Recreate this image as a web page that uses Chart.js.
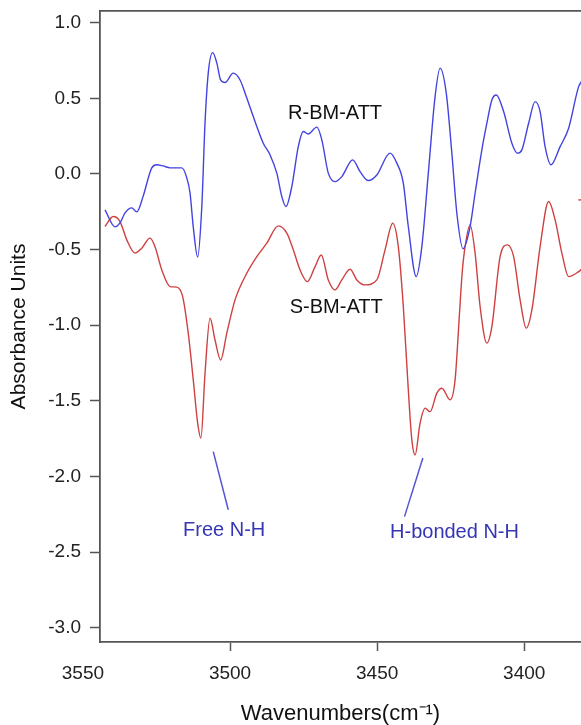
<!DOCTYPE html>
<html><head><meta charset="utf-8">
<script src="https://cdn.jsdelivr.net/npm/chart.js@4"></script>
<style>html,body{margin:0;padding:0;background:#fff;}canvas{display:block;}</style>
</head><body>
<canvas id="c" width="581" height="725"></canvas>
<script>
// R-BM-ATT spectrum (wavenumber, absorbance)
const wavenumbersR = [3542.5,3539.1,3537.4,3535.7,3533.4,3531.7,3529.6,3526.6,3524.9,3522.8,3520.4,3516.4,3514.7,3513.6,3512.5,3511.0,3509.6,3508.5,3507.4,3505.9,3504.5,3503.2,3501.7,3498.9,3496.6,3494.3,3492.1,3488.7,3486.4,3484.1,3482.4,3481.0,3479.0,3476.8,3475.1,3473.4,3470.5,3468.8,3466.6,3464.3,3462.0,3458.3,3455.8,3453.0,3450.1,3445.6,3443.3,3441.1,3439.4,3436.7,3434.8,3432.6,3430.3,3428.6,3426.5,3424.6,3422.9,3420.8,3418.4,3416.7,3414.4,3412.7,3411.0,3409.5,3407.0,3404.2,3402.3,3400.8,3398.5,3396.3,3394.6,3392.9,3390.9,3387.8,3384.9,3381.5,3380.2];
const absorbanceR = [-0.238,-0.350,-0.324,-0.258,-0.225,-0.251,-0.152,0.040,0.060,0.053,0.040,0.040,-0.026,-0.126,-0.350,-0.549,-0.218,0.337,0.668,0.802,0.734,0.621,0.604,0.666,0.621,0.502,0.379,0.203,0.126,0.005,-0.150,-0.216,-0.084,0.180,0.280,0.264,0.309,0.225,0.005,-0.051,-0.018,0.093,0.015,-0.044,-0.007,0.137,0.071,-0.061,-0.348,-0.679,-0.481,0.005,0.511,0.699,0.534,0.137,-0.260,-0.495,-0.348,-0.128,0.159,0.335,0.489,0.522,0.412,0.203,0.137,0.159,0.335,0.478,0.412,0.180,0.060,0.180,0.302,0.577,0.62];

// S-BM-ATT spectrum
const wavenumbersS = [3542.5,3539.7,3537.4,3535.1,3532.3,3530.0,3527.2,3525.5,3523.2,3520.4,3518.1,3516.1,3514.2,3512.5,3511.0,3509.9,3508.5,3506.8,3505.1,3503.2,3501.1,3498.3,3494.3,3490.9,3487.5,3483.6,3480.7,3478.5,3476.2,3473.7,3471.1,3469.0,3466.6,3464.3,3462.0,3459.2,3456.9,3454.1,3450.1,3447.3,3444.7,3442.8,3441.1,3439.4,3438.2,3437.1,3435.4,3433.7,3432.0,3429.7,3428.0,3425.2,3423.5,3422.0,3421.1,3420.1,3418.4,3416.7,3415.0,3412.7,3411.0,3408.2,3405.7,3403.6,3401.4,3399.3,3397.4,3394.6,3391.7,3389.5,3387.2,3384.9,3381.5,3380.2];
const absorbanceS = [-0.348,-0.282,-0.315,-0.436,-0.524,-0.491,-0.425,-0.481,-0.635,-0.745,-0.749,-0.811,-1.053,-1.362,-1.648,-1.747,-1.318,-0.954,-1.098,-1.230,-1.053,-0.833,-0.657,-0.547,-0.458,-0.344,-0.392,-0.502,-0.635,-0.712,-0.613,-0.536,-0.701,-0.767,-0.701,-0.630,-0.701,-0.734,-0.701,-0.502,-0.326,-0.481,-0.877,-1.428,-1.759,-1.858,-1.648,-1.549,-1.572,-1.450,-1.417,-1.494,-1.362,-0.921,-0.655,-0.481,-0.337,-0.524,-0.877,-1.119,-1.010,-0.547,-0.469,-0.547,-0.833,-1.020,-0.899,-0.481,-0.183,-0.304,-0.524,-0.679,-0.646,-0.625];

// small fragment of a third trace at the right edge
const wavenumbersEdge = [3381.6,3380.4];
const absorbanceEdge = [-0.172,-0.172];

// pointer lines for the labels
const freeNHLineX = [3505.7,3500.6];
const freeNHLineY = [-1.836,-2.221];
const hBondLineX = [3434.45,3440.7];
const hBondLineY = [-1.878,-2.266];

// tick labels
const xTicks = [3550,3500,3450,3400];
const yTicks = [1.0,0.5,0.0,-0.5,-1.0,-1.5,-2.0,-2.5,-3.0];

// text annotations
const annotationTexts = ['R-BM-ATT','S-BM-ATT','Free N-H','H-bonded N-H'];
const annotationX = [3464.3,3463.9,3502.0,3423.7];
const annotationY = [0.40,-0.88,-2.36,-2.37];

const FONT = '"Liberation Sans", Arial, Helvetica, sans-serif';
const annotationColors = ['#111','#111','#3535b5','#3535b5'];

const pts = (xs, ys) => xs.map((v,i)=>({x:v,y:ys[i]}));

const annotPlugin = {
  id:'annot',
  afterDatasetsDraw(chart){
    const {ctx, scales:{x,y}} = chart;
    ctx.save();
    ctx.font = '20px ' + FONT;
    ctx.textAlign = 'center';
    ctx.textBaseline = 'middle';
    annotationTexts.forEach((t,i)=>{
      ctx.fillStyle = annotationColors[i];
      ctx.fillText(t, x.getPixelForValue(annotationX[i]), y.getPixelForValue(annotationY[i]));
    });
    ctx.restore();
  }
};

const XMIN = 3380.7, XMAX = 3544.2, YMIN = -3.095, YMAX = 1.077;

new Chart(document.getElementById('c'), {
  type:'line',
  data:{
    datasets:[
      {label:'R-BM-ATT', data:pts(wavenumbersR,absorbanceR), borderColor:'#4343e0', borderWidth:1.4, pointRadius:0, cubicInterpolationMode:'monotone', fill:false},
      {label:'S-BM-ATT', data:pts(wavenumbersS,absorbanceS), borderColor:'#cf4040', borderWidth:1.4, pointRadius:0, cubicInterpolationMode:'monotone', fill:false},
      {label:'edge', data:pts(wavenumbersEdge,absorbanceEdge), borderColor:'#cf4040', borderWidth:1.4, pointRadius:0, tension:0},
      {label:'freeNH', data:pts(freeNHLineX,freeNHLineY), borderColor:'#5555d5', borderWidth:1.5, pointRadius:0, tension:0, clip:false},
      {label:'hbondNH', data:pts(hBondLineX,hBondLineY), borderColor:'#5555d5', borderWidth:1.5, pointRadius:0, tension:0, clip:false}
    ]
  },
  options:{
    responsive:false,
    animation:false,
    devicePixelRatio:1,
    layout:{padding:0},
    plugins:{legend:{display:false}, tooltip:{enabled:false}},
    scales:{
      x:{
        type:'linear', position:'bottom', reverse:true, min:XMIN, max:XMAX,
        afterBuildTicks: s => { s.ticks = xTicks.map(v=>({value:v})); },
        afterFit: s => { s.height = 83; s.paddingLeft = 0; s.paddingRight = 0; },
        ticks:{autoSkip:false, maxRotation:0, padding:11, color:'#222', font:{family:FONT, size:19}, callback:v=>String(v)},
        grid:{drawOnChartArea:false, tickLength:9, tickWidth:1.5, tickColor: c => (c.tick && c.tick.value===3550) ? 'rgba(0,0,0,0)' : '#555'},
        border:{display:true, color:'#555', width:1.8},
        title:{display:true, text:'Wavenumbers(cm⁻¹)', color:'#111', font:{family:FONT, size:22, lineHeight:1.0}, padding:{top:0,bottom:0}}
      },
      x2:{
        type:'linear', position:'top', reverse:true, min:XMIN, max:XMAX,
        afterFit: s => { s.height = 11; s.paddingLeft = 0; s.paddingRight = 0; },
        ticks:{display:false},
        grid:{display:false, drawTicks:false},
        border:{display:true, color:'#555', width:1.8}
      },
      y:{
        type:'linear', position:'left', min:YMIN, max:YMAX,
        afterBuildTicks: s => { s.ticks = yTicks.map(v=>({value:v})); },
        afterFit: s => { s.width = 100; s.paddingTop = 0; s.paddingBottom = 0; },
        ticks:{autoSkip:false, padding:9, color:'#222', font:{family:FONT, size:19}, callback:v=>Number(v).toFixed(1)},
        grid:{drawOnChartArea:false, tickLength:10, tickWidth:1.5, tickColor:'#555'},
        border:{display:true, color:'#555', width:1.8},
        title:{display:true, text:'Absorbance Units', color:'#111', font:{family:FONT, size:21, lineHeight:1.2}, padding:{top:7,bottom:0}}
      }
    }
  },
  plugins:[annotPlugin]
});
</script>
</body></html>
